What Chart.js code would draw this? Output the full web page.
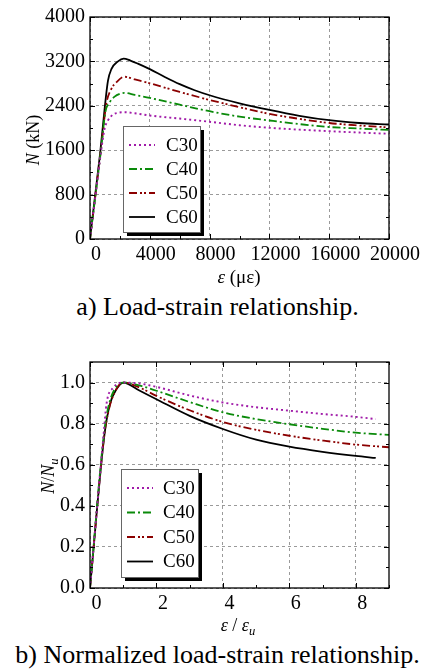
<!DOCTYPE html>
<html>
<head>
<meta charset="utf-8">
<script src="https://cdn.jsdelivr.net/npm/chart.js@4.4.1/dist/chart.umd.min.js"></script>
<style>
  body { margin: 0; background: #fff; width: 425px; height: 670px; position: relative; overflow: hidden; }
  canvas { position: absolute; left: 0; }
  #chartA { top: 0; }
  #chartB { top: 330px; }
  .caption { position: absolute; left: 0; width: 435px; text-align: center; font-family: "Liberation Serif", serif; font-size: 26px; color: #000; }
</style>
</head>
<body>
<canvas id="chartA" width="425" height="290"></canvas>
<div class="caption" style="top:292px">a) Load-strain relationship.</div>
<canvas id="chartB" width="425" height="310"></canvas>
<div class="caption" style="top:640px">b) Normalized load-strain relationship.</div>

<script>
// ---- a) load-strain, strain in microstrain, load in kN
const seriesNames = ["C30", "C40", "C50", "C60"];

const c30StrainA = [0, 400, 750, 980, 1200, 1535, 1900, 2300, 3000, 4000, 6000, 8000, 10000, 12000, 14000, 16000, 18000, 20000];
const c30LoadA   = [0, 860, 1600, 1990, 2135, 2242, 2275, 2285, 2265, 2225, 2170, 2112, 2050, 2004, 1970, 1943, 1918, 1896];

const c40StrainA = [0, 400, 750, 1025, 1313, 1648, 2000, 2300, 3000, 4000, 6000, 8000, 10000, 12000, 14000, 16000, 18000, 20000];
const c40LoadA   = [0, 860, 1640, 2284, 2463, 2565, 2615, 2632, 2595, 2542, 2420, 2302, 2205, 2135, 2070, 2018, 1990, 1965];

const c50StrainA = [0, 400, 750, 1090, 1426, 1760, 2300, 3000, 4000, 6000, 8000, 10000, 12000, 14000, 16000, 18000, 20000];
const c50LoadA   = [0, 870, 1650, 2434, 2703, 2822, 2924, 2875, 2805, 2650, 2506, 2375, 2255, 2165, 2090, 2045, 2010];

const c60StrainA = [0, 350, 700, 980, 1200, 1430, 1870, 2250, 2700, 3200, 4000, 5000, 6000, 7000, 8000, 10000, 12000, 14000, 16000, 18000, 20000];
const c60LoadA   = [0, 800, 1600, 2350, 2850, 3060, 3200, 3250, 3215, 3160, 3060, 2920, 2790, 2680, 2590, 2445, 2325, 2220, 2140, 2090, 2063];

const xTicksA = [0, 4000, 8000, 12000, 16000, 20000];
const yTicksA = [0, 800, 1600, 2400, 3200, 4000];

// ---- b) normalized
const c30StrainB = [0, 0.4, 0.5, 0.7, 1.0, 1.5, 2, 3, 4, 5, 6, 7, 8, 8.6];
const c30LoadB   = [0, 0.73, 0.9, 0.975, 1.0, 0.995, 0.979, 0.937, 0.903, 0.880, 0.863, 0.847, 0.833, 0.822];

const c40StrainB = [0, 0.42, 0.55, 0.75, 1.0, 1.5, 2, 3, 4, 5, 6, 7, 8, 9];
const c40LoadB   = [0, 0.75, 0.88, 0.97, 1.0, 0.985, 0.96, 0.905, 0.855, 0.822, 0.797, 0.775, 0.756, 0.745];

const c50StrainB = [0, 0.42, 0.57, 0.78, 1.0, 1.5, 2, 3, 4, 5, 6, 7, 8, 9];
const c50LoadB   = [0, 0.73, 0.87, 0.965, 1.0, 0.975, 0.935, 0.865, 0.808, 0.77, 0.741, 0.718, 0.698, 0.685];

const c60StrainB = [0, 0.43, 0.6, 0.8, 1.0, 1.5, 2, 3, 4, 5, 6, 7, 8, 8.6];
const c60LoadB   = [0, 0.74, 0.895, 0.968, 1.0, 0.96, 0.919, 0.838, 0.774, 0.722, 0.688, 0.663, 0.643, 0.633];

const xTicksB = [0, 2, 4, 6, 8];
const yTicksB = [0, 0.2, 0.4, 0.6, 0.8, 1.0];

const FONT = '"Liberation Serif", "Times New Roman", serif';

const lineStyles = [
    { color: "#a01aa8", dash: [2, 3], width: 1.9 },
    { color: "#0a8a0a", dash: [8, 3, 2, 3], width: 1.8 },
    { color: "#8b0000", dash: [8, 3, 2, 2, 2, 3], width: 1.8 },
    { color: "#000000", dash: [], width: 1.8 }
];

function toPoints(xs, ys) {
    return xs.map((x, i) => ({ x: x, y: ys[i] }));
}

function makeDatasets(pairs) {
    return pairs.map((p, i) => ({
        label: seriesNames[i],
        data: toPoints(p[0], p[1]),
        borderColor: lineStyles[i].color,
        borderDash: lineStyles[i].dash,
        borderWidth: lineStyles[i].width,
        pointRadius: 0,
        fill: false,
        cubicInterpolationMode: "monotone"
    }));
}

function drawRich(ctx, parts, cx, cy, angle, size) {
    ctx.save();
    ctx.translate(cx, cy);
    ctx.rotate(angle);
    ctx.fillStyle = "#000";
    ctx.textBaseline = "alphabetic";
    ctx.textAlign = "left";
    const fonts = parts.map(p =>
        (p.italic ? "italic " : "") + (p.sub ? size * 0.7 : size) + "px " + FONT);
    let total = 0;
    const widths = parts.map((p, i) => {
        ctx.font = fonts[i];
        const w = ctx.measureText(p.t).width;
        total += w;
        return w;
    });
    let x = -total / 2;
    parts.forEach((p, i) => {
        ctx.font = fonts[i];
        ctx.fillText(p.t, x, size * 0.33 + (p.sub ? size * 0.25 : 0));
        x += widths[i];
    });
    ctx.restore();
}

// frame, inward ticks, boxed legend and axis titles
const decor = {
    id: "decor",
    afterDraw(chart, args, opts) {
        const ctx = chart.ctx;
        const a = chart.chartArea;
        const xs = chart.scales.x;
        const ys = chart.scales.y;
        ctx.save();
        ctx.strokeStyle = "#000";
        ctx.lineWidth = 1;
        ctx.setLineDash([]);

        // ticks on all four sides, pointing in
        const tickRun = (scale, step, major, horiz) => {
            for (let v = scale.min; v <= scale.max + step * 0.01; v += step) {
                const isMajor = Math.abs(v / major - Math.round(v / major)) < 1e-6;
                const len = isMajor ? 5 : 3;
                const p = Math.round(scale.getPixelForValue(v)) + 0.5;
                ctx.beginPath();
                if (horiz) {
                    ctx.moveTo(p, a.bottom); ctx.lineTo(p, a.bottom - len);
                    ctx.moveTo(p, a.top); ctx.lineTo(p, a.top + len);
                } else {
                    ctx.moveTo(a.left, p); ctx.lineTo(a.left + len, p);
                    ctx.moveTo(a.right, p); ctx.lineTo(a.right - len, p);
                }
                ctx.stroke();
            }
        };
        tickRun(xs, opts.xMinor, opts.xMajor, true);
        tickRun(ys, opts.yMinor, opts.yMajor, false);

        ctx.lineWidth = 1.3;
        ctx.strokeRect(a.left, a.top, a.right - a.left, a.bottom - a.top);

        // legend box with drop shadow
        const L = opts.legend;
        ctx.fillStyle = "#000";
        ctx.fillRect(L.x + 4, L.y + 4, L.w, L.h);
        ctx.fillStyle = "#fff";
        ctx.fillRect(L.x, L.y, L.w, L.h);
        ctx.strokeStyle = "#666";
        ctx.lineWidth = 1;
        ctx.strokeRect(L.x + 0.5, L.y + 0.5, L.w, L.h);
        ctx.font = L.size + "px " + FONT;
        ctx.textBaseline = "middle";
        ctx.textAlign = "left";
        chart.data.datasets.forEach((ds, i) => {
            const y = L.firstRow + i * L.rowGap;
            ctx.strokeStyle = ds.borderColor;
            ctx.lineWidth = ds.borderWidth;
            ctx.setLineDash(ds.borderDash);
            ctx.beginPath();
            ctx.moveTo(L.x1, y);
            ctx.lineTo(L.x2, y);
            ctx.stroke();
            ctx.setLineDash([]);
            ctx.fillStyle = "#000";
            ctx.fillText(ds.label, L.textX, y + 1);
        });

        drawRich(ctx, opts.xTitle.parts, opts.xTitle.x, opts.xTitle.y, 0, opts.xTitle.size);
        drawRich(ctx, opts.yTitle.parts, opts.yTitle.x, opts.yTitle.y, -Math.PI / 2, opts.yTitle.size);
        ctx.restore();
    }
};

function axes(xMin, xMax, xTicks, yMin, yMax, yTicks, yFmt, xOffset) {
    const gridOpts = { color: "#9a9a9a", lineWidth: 1, drawTicks: false };
    const borderOpts = { display: false, dash: [3, 3] };
    return {
        x: {
            type: "linear", min: xMin, max: xMax,
            grid: gridOpts, border: borderOpts,
            afterBuildTicks: s => { s.ticks = xTicks.map(v => ({ value: v })); },
            afterFit: s => { s.height = 40; },
            ticks: {
                color: "#000", padding: 4, labelOffset: xOffset, maxRotation: 0,
                font: { family: FONT, size: 20 },
                callback: v => String(v)
            }
        },
        y: {
            type: "linear", min: yMin, max: yMax,
            grid: gridOpts, border: borderOpts,
            afterBuildTicks: s => { s.ticks = yTicks.map(v => ({ value: v })); },
            afterFit: s => { s.width = 90; },
            ticks: {
                color: "#000", padding: 5,
                font: { family: FONT, size: 20 },
                callback: yFmt
            }
        }
    };
}

new Chart(document.getElementById("chartA"), {
    type: "line",
    data: {
        datasets: makeDatasets([
            [c30StrainA, c30LoadA],
            [c40StrainA, c40LoadA],
            [c50StrainA, c50LoadA],
            [c60StrainA, c60LoadA]
        ])
    },
    options: {
        responsive: false,
        animation: false,
        layout: { padding: { left: 0, top: 16, right: 36, bottom: 11 } },
        scales: axes(0, 20000, xTicksA, 0, 4000, yTicksA, v => String(v), 6),
        plugins: {
            legend: { display: false },
            tooltip: { enabled: false },
            decor: {
                xMinor: 2000, xMajor: 4000, yMinor: 400, yMajor: 800,
                legend: { x: 123, y: 126, w: 77, h: 106, x1: 129, x2: 155, textX: 166, firstRow: 145, rowGap: 24, size: 19 },
                xTitle: { x: 239, y: 277, size: 19, parts: [{ t: "ε", italic: true }, { t: " (με)" }] },
                yTitle: { x: 33, y: 140, size: 18, parts: [{ t: "N", italic: true }, { t: " (kN)" }] }
            }
        }
    },
    plugins: [decor]
});

new Chart(document.getElementById("chartB"), {
    type: "line",
    data: {
        datasets: makeDatasets([
            [c30StrainB, c30LoadB],
            [c40StrainB, c40LoadB],
            [c50StrainB, c50LoadB],
            [c60StrainB, c60LoadB]
        ])
    },
    options: {
        responsive: false,
        animation: false,
        layout: { padding: { left: 0, top: 32, right: 36, bottom: 12 } },
        scales: axes(0, 9, xTicksB, 0, 1.1, yTicksB, v => v.toFixed(1), 6.5),
        plugins: {
            legend: { display: false },
            tooltip: { enabled: false },
            decor: {
                xMinor: 1, xMajor: 2, yMinor: 0.1, yMajor: 0.2,
                legend: { x: 121, y: 139, w: 77, h: 108, x1: 127, x2: 153, textX: 163, firstRow: 158, rowGap: 24.5, size: 19 },
                xTitle: { x: 238, y: 295, size: 18, parts: [{ t: "ε", italic: true }, { t: " / " }, { t: "ε", italic: true }, { t: "u", italic: true, sub: true }] },
                yTitle: { x: 48, y: 146, size: 18, parts: [{ t: "N", italic: true }, { t: "/" }, { t: "N", italic: true }, { t: "u", italic: true, sub: true }] }
            }
        }
    },
    plugins: [decor]
});
</script>
</body>
</html>
